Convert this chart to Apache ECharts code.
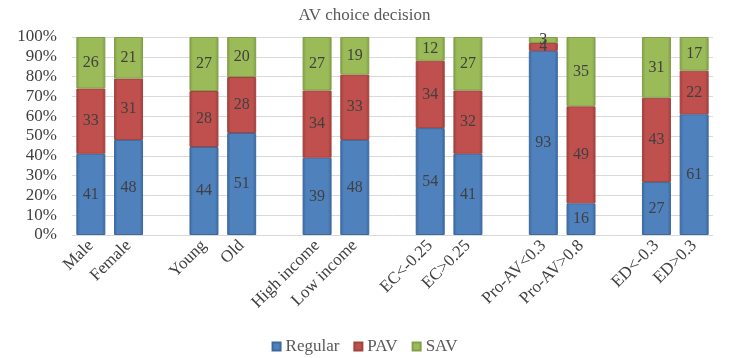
<!DOCTYPE html>
<html>
<head>
<meta charset="utf-8">
<script src="https://cdn.jsdelivr.net/npm/echarts@6/dist/echarts.min.js"></script>
<style>html,body{margin:0;padding:0;background:#fff}#c{width:729px;height:358px}</style>
</head>
<body>
<div id="c"></div>
<script>
var categories = ['Male','Female',' ','Young','Old','  ','High income','Low income','   ','EC<-0.25','EC>0.25','    ','Pro-AV<0.3','Pro-AV>0.8','     ','ED<-0.3','ED>0.3'];
var regular = [41,48,'-',44,51,'-',39,48,'-',54,41,'-',93,16,'-',27,61];
var pav     = [33,31,'-',28,28,'-',34,33,'-',34,32,'-',4,49,'-',43,22];
var sav     = [26,21,'-',27,20,'-',27,19,'-',12,27,'-',3,35,'-',31,17];
var yTicks = [0,10,20,30,40,50,60,70,80,90,100];

// 100% stacked: each bar is normalised to its total, the label keeps the raw value
function toShare(arr){
  return arr.map(function(v,i){
    if(v==='-') return '-';
    var tot = regular[i]+pav[i]+sav[i];
    return {value: v/tot*100, raw: v};
  });
}

function bevel(edge, face){
  return new echarts.graphic.LinearGradient(0,0,1,0,[
    {offset:0,color:edge},{offset:0.12,color:face},{offset:0.88,color:face},{offset:1,color:edge}
  ]);
}
var font = '"Liberation Serif","Times New Roman",serif';
var labelStyle = {show:true,position:'inside',color:'#404040',fontFamily:font,fontSize:16,
  formatter:function(p){return p.data.raw;}};

function mk(name,data,edge,face,border){
  return {name:name,type:'bar',stack:'s',data:toShare(data),barWidth:29,
    itemStyle:{color:bevel(edge,face),borderColor:border,borderWidth:1},
    label:labelStyle};
}
var chart = echarts.init(document.getElementById('c'),null,{renderer:'canvas'});
chart.setOption({
  animation:false,
  title:{text:'AV choice decision',left:'center',top:2,
    textStyle:{fontFamily:font,fontSize:17,fontWeight:'normal',color:'#595959'}},
  grid:{left:72,right:16,top:37,bottom:123},
  legend:{top:333,left:'center',itemWidth:8,itemHeight:8,itemGap:14,icon:'rect',
    textStyle:{fontFamily:font,fontSize:17,color:'#595959'},
    data:['Regular','PAV','SAV']},
  tooltip:{show:false},
  xAxis:{type:'category',data:categories,
    axisLine:{show:false},axisTick:{show:false},
    axisLabel:{rotate:45,interval:0,margin:8,fontFamily:font,fontSize:17,color:'#404040'}},
  yAxis:{type:'value',min:yTicks[0],max:yTicks[yTicks.length-1],interval:10,
    axisLine:{show:false},axisTick:{show:false},
    splitLine:{lineStyle:{color:'#d9d9d9'}},
    axisLabel:{formatter:'{value}%',margin:15,fontFamily:font,fontSize:17,color:'#404040'}},
  series:[
    mk('Regular',regular,'#3a669c','#4f81bd','#3c6a9f'),
    mk('PAV',pav,'#9c3c3a','#c0504d','#a04441'),
    mk('SAV',sav,'#7f9a48','#9bbb59','#839f4a')
  ]
});
</script>
</body>
</html>
